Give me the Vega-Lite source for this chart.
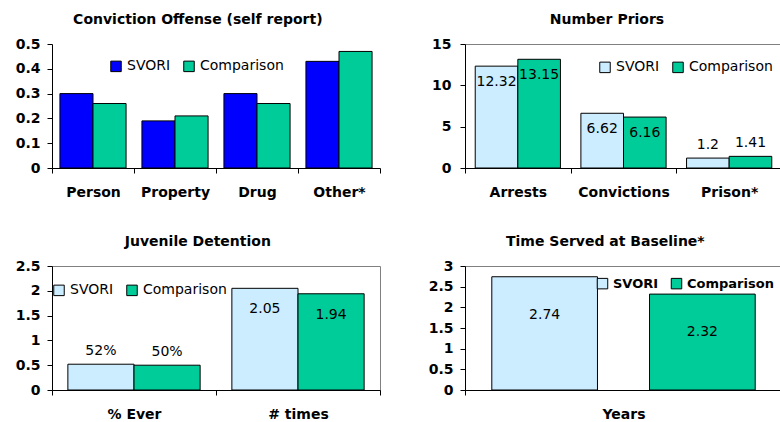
{
  "$schema": "https://vega.github.io/schema/vega-lite/v6.json",
  "padding": {"left": 14, "top": 12, "right": 0, "bottom": 0},
  "background": "white",
  "datasets": {
    "conv": [
      {"cat": "Person", "series": "SVORI", "value": 0.30},
      {"cat": "Person", "series": "Comparison", "value": 0.26},
      {"cat": "Property", "series": "SVORI", "value": 0.19},
      {"cat": "Property", "series": "Comparison", "value": 0.21},
      {"cat": "Drug", "series": "SVORI", "value": 0.30},
      {"cat": "Drug", "series": "Comparison", "value": 0.26},
      {"cat": "Other*", "series": "SVORI", "value": 0.43},
      {"cat": "Other*", "series": "Comparison", "value": 0.47}
    ],
    "priors": [
      {"cat": "Arrests", "series": "SVORI", "value": 12.32, "label": "12.32"},
      {"cat": "Arrests", "series": "Comparison", "value": 13.15, "label": "13.15"},
      {"cat": "Convictions", "series": "SVORI", "value": 6.62, "label": "6.62"},
      {"cat": "Convictions", "series": "Comparison", "value": 6.16, "label": "6.16"},
      {"cat": "Prison*", "series": "SVORI", "value": 1.2, "label": "1.2"},
      {"cat": "Prison*", "series": "Comparison", "value": 1.41, "label": "1.41"}
    ],
    "juv": [
      {"cat": "% Ever", "series": "SVORI", "value": 0.52, "label": "52%"},
      {"cat": "% Ever", "series": "Comparison", "value": 0.50, "label": "50%"},
      {"cat": "# times", "series": "SVORI", "value": 2.05, "label": "2.05"},
      {"cat": "# times", "series": "Comparison", "value": 1.94, "label": "1.94"}
    ],
    "time": [
      {"cat": "Years", "series": "SVORI", "value": 2.74, "label": "2.74"},
      {"cat": "Years", "series": "Comparison", "value": 2.32, "label": "2.32"}
    ]
  },
  "columns": 2,
  "spacing": {"row": 98, "column": 85},
  "bounds": "flush",
  "align": "each",
  "resolve": {
    "scale": {"x": "independent", "y": "independent", "xOffset": "independent", "color": "independent"},
    "legend": {"color": "independent"}
  },
  "concat": [
    {
      "width": 328, "height": 124,
      "view": {"stroke": null},
      "title": {"text": "Conviction Offense (self report)"},
      "data": {"name": "conv"},
      "encoding": {
        "x": {"field": "cat", "type": "nominal", "sort": null, "scale": {"paddingInner": 0, "paddingOuter": 0}, "axis": {"title": null}},
        "xOffset": {"field": "series", "type": "nominal", "scale": {"domain": ["SVORI", "Comparison"], "paddingInner": 0, "paddingOuter": 0.24}},
        "y": {"field": "value", "type": "quantitative", "scale": {"domain": [0, 0.5]}, "axis": {"title": null, "values": [0, 0.1, 0.2, 0.3, 0.4, 0.5], "format": "~g"}}
      },
      "layer": [
        {
          "mark": {"type": "bar", "stroke": "#000", "strokeWidth": 1},
          "encoding": {
            "color": {"field": "series", "type": "nominal", "scale": {"domain": ["SVORI", "Comparison"], "range": ["#0000FF", "#00CC99"]},
              "legend": {"legendX": 57, "legendY": 15}}
          }
        }
      ]
    },
    {
      "width": 317, "height": 124,
      "view": {"stroke": "#808080"},
      "title": {"text": "Number Priors"},
      "data": {"name": "priors"},
      "encoding": {
        "x": {"field": "cat", "type": "nominal", "sort": null, "scale": {"paddingInner": 0, "paddingOuter": 0}, "axis": {"title": null}},
        "xOffset": {"field": "series", "type": "nominal", "scale": {"domain": ["SVORI", "Comparison"], "paddingInner": 0, "paddingOuter": 0.24}},
        "y": {"field": "value", "type": "quantitative", "scale": {"domain": [0, 15]}, "axis": {"title": null, "values": [0, 5, 10, 15], "labelPadding": 9}}
      },
      "layer": [
        {
          "mark": {"type": "bar", "stroke": "#000", "strokeWidth": 1},
          "encoding": {
            "color": {"field": "series", "type": "nominal", "scale": {"domain": ["SVORI", "Comparison"], "range": ["#CCECFF", "#00CC99"]},
              "legend": {"legendX": 133, "legendY": 16}}
          }
        },
        {
          "transform": [{"filter": "datum.cat !== 'Prison*'"}],
          "mark": {"type": "text", "baseline": "top", "dy": 9},
          "encoding": {"text": {"field": "label"}}
        },
        {
          "transform": [{"filter": "datum.cat === 'Prison*'"}],
          "mark": {"type": "text", "baseline": "bottom", "dy": -6},
          "encoding": {"text": {"field": "label"}}
        }
      ]
    },
    {
      "width": 328, "height": 124,
      "view": {"stroke": "#808080"},
      "title": {"text": "Juvenile Detention"},
      "data": {"name": "juv"},
      "encoding": {
        "x": {"field": "cat", "type": "nominal", "sort": null, "scale": {"paddingInner": 0, "paddingOuter": 0}, "axis": {"title": null}},
        "xOffset": {"field": "series", "type": "nominal", "scale": {"domain": ["SVORI", "Comparison"], "paddingInner": 0, "paddingOuter": 0.24}},
        "y": {"field": "value", "type": "quantitative", "scale": {"domain": [0, 2.5]}, "axis": {"title": null, "values": [0, 0.5, 1, 1.5, 2, 2.5], "format": "~g"}}
      },
      "layer": [
        {
          "mark": {"type": "bar", "stroke": "#000", "strokeWidth": 1},
          "encoding": {
            "color": {"field": "series", "type": "nominal", "scale": {"domain": ["SVORI", "Comparison"], "range": ["#CCECFF", "#00CC99"]},
              "legend": {"legendX": 0, "legendY": 17}}
          }
        },
        {
          "transform": [{"filter": "datum.cat === '# times'"}],
          "mark": {"type": "text", "baseline": "top", "dy": 14},
          "encoding": {"text": {"field": "label"}}
        },
        {
          "transform": [{"filter": "datum.cat === '% Ever'"}],
          "mark": {"type": "text", "baseline": "bottom", "dy": -6},
          "encoding": {"text": {"field": "label"}}
        }
      ]
    },
    {
      "width": 317, "height": 124,
      "view": {"stroke": "#808080"},
      "title": {"text": "Time Served at Baseline*"},
      "data": {"name": "time"},
      "encoding": {
        "x": {"field": "cat", "type": "nominal", "sort": null, "scale": {"paddingInner": 0, "paddingOuter": 0}, "axis": {"title": null}},
        "xOffset": {"field": "series", "type": "nominal", "scale": {"domain": ["SVORI", "Comparison"], "paddingInner": 0.33, "paddingOuter": 0.17}},
        "y": {"field": "value", "type": "quantitative", "scale": {"domain": [0, 3]}, "axis": {"title": null, "values": [0, 0.5, 1, 1.5, 2, 2.5, 3], "format": "~g"}}
      },
      "layer": [
        {
          "mark": {"type": "bar", "stroke": "#000", "strokeWidth": 1},
          "encoding": {
            "color": {"field": "series", "type": "nominal", "scale": {"domain": ["SVORI", "Comparison"], "range": ["#CCECFF", "#00CC99"]},
              "legend": {"legendX": 131, "legendY": 11, "labelFontWeight": "bold", "labelFontSize": 13}}
          }
        },
        {
          "mark": {"type": "text", "baseline": "top", "dy": 31},
          "encoding": {"text": {"field": "label"}}
        }
      ]
    }
  ],
  "config": {
    "font": "DejaVu Sans",
    "view": {"stroke": "#808080"},
    "title": {"font": "DejaVu Sans", "fontSize": 14, "fontWeight": "bold", "color": "#000", "frame": "bounds", "anchor": "middle", "offset": 10},
    "axis": {"labelFont": "DejaVu Sans", "labelFontWeight": "bold", "labelColor": "#000", "domainColor": "#000", "tickColor": "#000", "tickSize": 5, "grid": false, "domainWidth": 1},
    "axisX": {"labelFontSize": 14, "labelPadding": 12, "labelAngle": 0, "tickBand": "extent"},
    "axisY": {"labelFontSize": 14, "labelPadding": 7},
    "legend": {"orient": "none", "direction": "horizontal", "title": null, "symbolType": "square", "symbolSize": 110, "symbolStrokeColor": "#000", "symbolStrokeWidth": 1, "symbolOpacity": 1, "labelFont": "DejaVu Sans", "labelFontSize": 14, "labelColor": "#000", "columnPadding": 10, "labelOffset": 4, "padding": 0},
    "text": {"font": "DejaVu Sans", "fontSize": 14, "color": "#000"}
  }
}
